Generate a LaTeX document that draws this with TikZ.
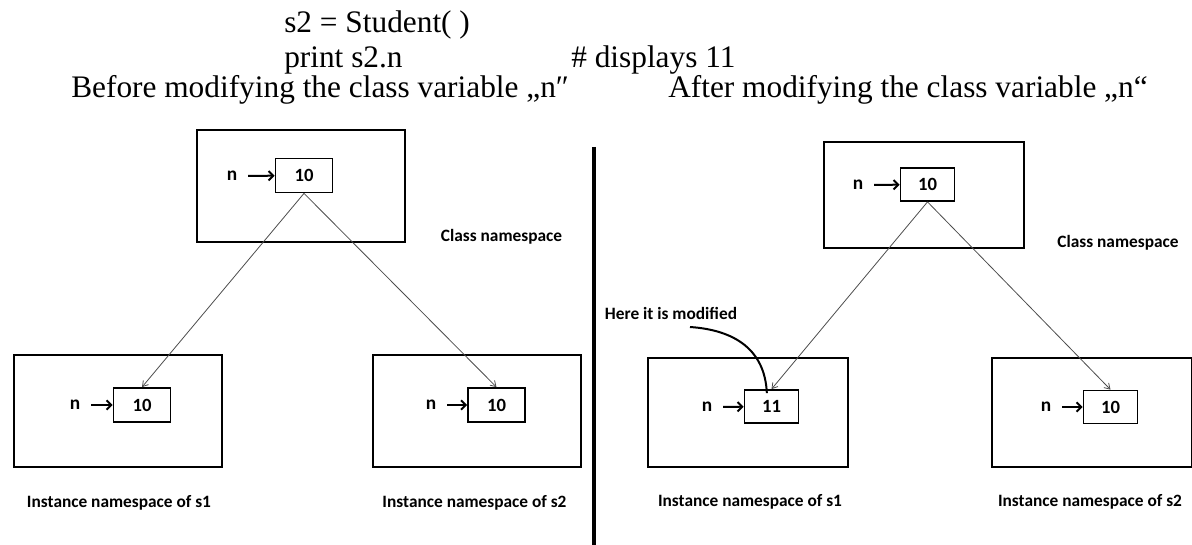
\documentclass[tikz,border=0pt]{standalone}
\usepackage{fontspec}
\setmainfont{Liberation Serif}
\newfontfamily\calfont{Carlito}
\usetikzlibrary{arrows.meta}

\begin{document}
\begin{tikzpicture}[x=0.75pt,y=0.75pt,yscale=-1,xscale=1,
  nsbox/.style={draw, line width=1.5pt, minimum width=156pt, minimum height=84pt, inner sep=0pt},
  nsboxr/.style={nsbox, minimum width=150pt, minimum height=81.75pt},
  valbox/.style={draw, line width=1.3pt, minimum width=42.75pt, minimum height=25.5pt, inner sep=0pt, font=\calfont\bfseries\fontsize{14}{16}\selectfont},
  valboxr/.style={valbox, minimum width=40.5pt, minimum height=24.75pt},
  varlbl/.style={inner sep=0pt, font=\calfont\bfseries\fontsize{14.5}{16}\selectfont},
  caplbl/.style={inner sep=0pt, font=\calfont\bfseries\fontsize{13}{15}\selectfont},
  headtxt/.style={anchor=base west, inner sep=0pt, font=\fontsize{23.5}{27}\selectfont},
  refarr/.style={draw=black!70, line width=0.6pt, -{Straight Barb[length=4pt,width=5pt]}},
  namearr/.style={line width=1.5pt, shorten <=8pt, -{Straight Barb[length=3.5pt,width=7pt]}}
]
\useasboundingbox (0,0) rectangle (1192,545);

% Text Node
\node[headtxt] (code1) at (284,33) {s2 = Student( )};
\node[headtxt] (code2) at (284,68) {print s2.n};
\node[headtxt] (cmt) at (571,68) {\# displays 11};
\node[headtxt] (ttlL) at (71,98) {Before modifying the class variable „n″};
\node[headtxt] (ttlR) at (668,98) {After modifying the class variable „n“};

%Shape: Rectangle -- before
\node[nsbox] (clsL) at (300.5,186) {};
\node[valbox] (vL0) at (304,175.5) {10};
\node[varlbl] (nL0) at (232,176) {n};
\node[nsbox] (insL1) at (117.5,410.5) {};
\node[valbox] (vL1) at (142,405) {10};
\node[varlbl] (nL1) at (75,405) {n};
\node[nsbox] (insL2) at (476.5,410.5) {};
\node[valbox] (vL2) at (496.5,405) {10};
\node[varlbl] (nL2) at (431,405) {n};

% Text Node
\node[caplbl] (capL0) at (501.5,237) {Class namespace};
\node[caplbl] (capL1) at (119,503) {Instance namespace of s1};
\node[caplbl] (capL2) at (474.5,503) {Instance namespace of s2};

%Straight Lines
\draw[namearr] (nL0) -- (vL0);
\draw[namearr] (nL1) -- (vL1);
\draw[namearr] (nL2) -- (vL2);
\draw[refarr] (vL0.south) -- (vL1.north);
\draw[refarr] (vL0.south) -- (vL2.north);

%Straight Lines -- divider
\coordinate (divT) at (594,147);
\coordinate (divB) at (594,545);
\draw[line width=2.4pt] (divT) -- (divB);

%Shape: Rectangle -- after
\node[nsboxr, minimum height=79.5pt] (clsR) at (924,195) {};
\node[valboxr] (vR0) at (927.5,184.5) {10};
\node[varlbl] (nR0) at (858,185) {n};
\node[nsboxr] (insR1) at (748,412.5) {};
\node[valboxr] (vR1) at (771.5,406.5) {11};
\node[varlbl] (nR1) at (707,407) {n};
\node[nsboxr] (insR2) at (1091.5,412.5) {};
\node[valboxr] (vR2) at (1110.5,407) {10};
\node[varlbl] (nR2) at (1046,407) {n};

% Text Node
\node[caplbl] (capR0) at (1118,243) {Class namespace};
\node[caplbl] (capR1) at (750,502) {Instance namespace of s1};
\node[caplbl] (capR2) at (1090,502) {Instance namespace of s2};
\node[caplbl] (here) at (671,313) {Here it is modified};

%Straight Lines
\draw[namearr] (nR0) -- (vR0);
\draw[namearr] (nR1) -- (vR1);
\draw[namearr] (nR2) -- (vR2);
\draw[refarr] (vR0.south) -- (vR1.north);
\draw[refarr] (vR0.south) -- (vR2.north);

%Curve Lines
\coordinate (hereS) at (690,327);
\draw[line width=1.5pt] (hereS) .. controls (735,330) and (765,350) .. ([shift={(-3.5pt,3pt)}]vR1.north);

\end{tikzpicture}
\end{document}
